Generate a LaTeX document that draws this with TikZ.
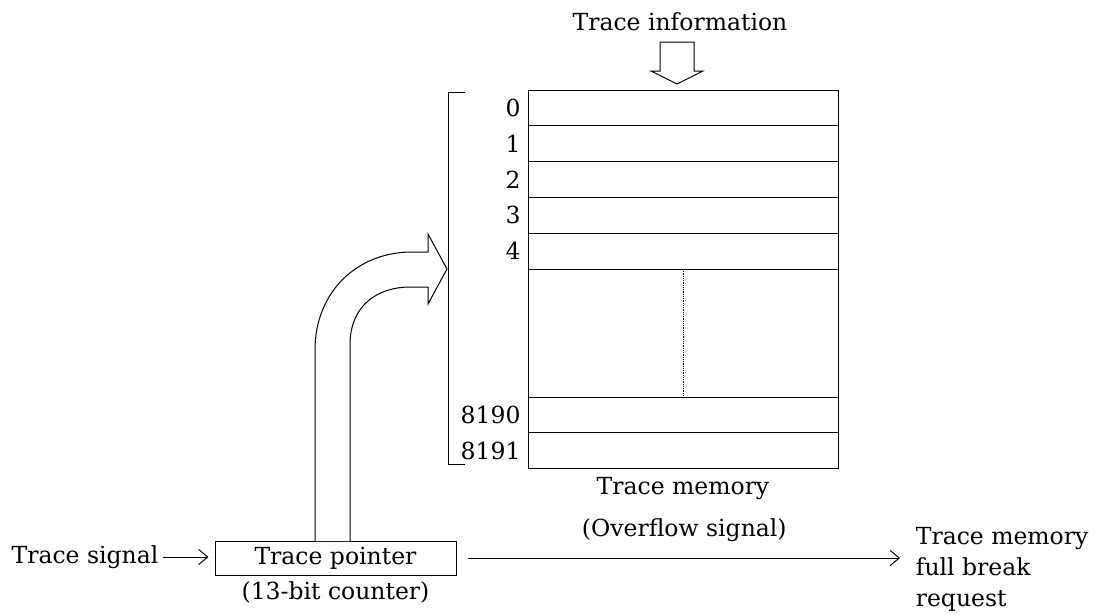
\documentclass[tikz,border=0pt]{standalone}
\usepackage{fontspec}
\setmainfont{DejaVu Serif}
\usetikzlibrary{positioning,arrows.meta,calc}

\begin{document}
\begin{tikzpicture}[x=1pt,y=-1pt,
  font=\fontsize{23.5}{31}\selectfont,
  line width=1pt,
  memrow/.style={draw,minimum width=310pt,minimum height=35.8pt,inner sep=0pt,outer sep=0pt},
  rowlbl/.style={left=7pt,inner sep=0pt},
  ptrbox/.style={draw,minimum width=241pt,minimum height=34pt,inner sep=0pt},
  sig/.style={-{Straight Barb[length=9pt,width=15pt]},line width=1pt},
  hollow/.style={draw,line width=1pt,fill=white,line join=miter},
]
\useasboundingbox (0,0) rectangle (1105,614);

% memory rows 0..4
\foreach \i/\y in {0/107.9,1/143.7,2/179.5,3/215.3,4/251.1}{
  \node[memrow] (r\i) at (683,\y) {};
  \node[rowlbl] (l\i) at (r\i.west) {\i};
}
\node[memrow,minimum height=128pt,below=0pt of r4] (gap) {};
\node[memrow,below=0pt of gap] (r8190) {};
\node[memrow,below=0pt of r8190] (r8191) {};
\node[rowlbl] (l8190) at (r8190.west) {8190};
\node[rowlbl] (l8191) at (r8191.west) {8191};
\draw[densely dotted,line width=0.8pt] (gap.north) -- (gap.south);
\node[below=5pt of r8191] (mem) {Trace memory};

% address range bracket
\draw ($(r0.north west)+(-63,2)$) -| ($(r8191.south west)+(-80,-4)$) -- ++(17,0);

% trace information in
\node (info) at (680,22) {Trace information};
\draw[hollow] (660,42) -- (694,42) -- (694,71) -- (703,71) -- (677,84)
  -- (651,71) -- (660,71) -- cycle;

% pointer and signals
\node[ptrbox] (ptr) at (335.5,558) {Trace pointer};
\node[below=2pt of ptr] (cnt) {(13-bit counter)};
\node (tsig) at (85,557) {Trace signal};
\node[anchor=west,align=left] (req) at (912,569) {Trace memory\\full break\\request};
\draw[sig,shorten <=1pt,shorten >=6pt] (tsig.east) -- (tsig.east -| ptr.west);
\draw[sig,shorten <=11pt,shorten >=12pt] (ptr.east) -- (ptr.east -| req.west)
  node[midway,above=12pt] (ovf) {(Overflow signal)};

% pointer selects a row
\draw[hollow] (315,541) -- (315,350) .. controls (315,292) and (357,252) .. (412,252)
  -- (428,252) -- (428,234) -- (447,269) -- (428,304) -- (428,287) -- (410,287)
  .. controls (378,287) and (350,305) .. (350,345) -- (350,541);
\end{tikzpicture}
\end{document}
